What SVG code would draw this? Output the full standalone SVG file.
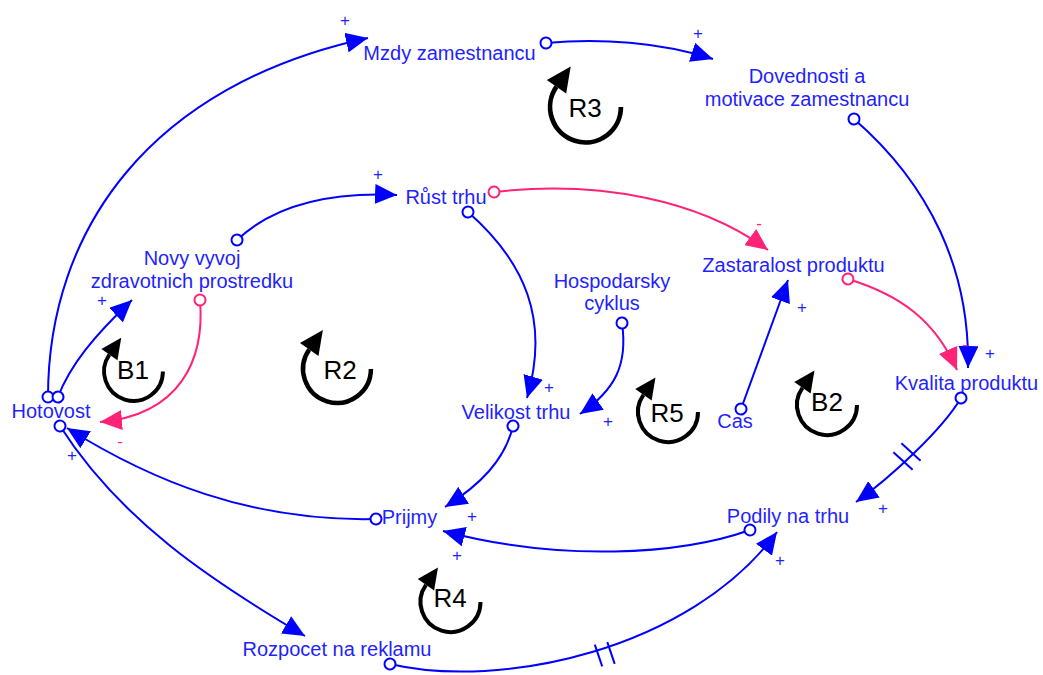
<svg xmlns="http://www.w3.org/2000/svg" xmlns:xlink="http://www.w3.org/1999/xlink" width="1043" height="675" viewBox="0 0 1043 675">
<style>
.n{font-family:"Liberation Sans",Arial,sans-serif;font-size:20px;fill:#1f1fff;text-anchor:middle}
.s{font-family:"Liberation Sans",Arial,sans-serif;font-size:17px;text-anchor:middle}
.sp{fill:#1f1fff}
.sm{fill:#ff2277}
.cb{fill:none;stroke:#0000ff;stroke-width:2;marker-start:url(#cb);marker-end:url(#ab)}
.cp{fill:none;stroke:#ff2277;stroke-width:2;marker-start:url(#cp);marker-end:url(#ap)}
.h{stroke:#0000ff;stroke-width:2}
.ll{font-family:"Liberation Sans",Arial,sans-serif;font-size:26px;fill:#000;text-anchor:middle}
</style>
<defs>
<marker id="ab" viewBox="0 0 22 20" refX="22" refY="10" markerWidth="22" markerHeight="20" markerUnits="userSpaceOnUse" orient="auto"><path d="M0,0 L22,10 L0,20 z" fill="#0000ff"/></marker>
<marker id="ap" viewBox="0 0 22 20" refX="22" refY="10" markerWidth="22" markerHeight="20" markerUnits="userSpaceOnUse" orient="auto"><path d="M0,0 L22,10 L0,20 z" fill="#ff2277"/></marker>
<marker id="cb" viewBox="-7 -7 14 14" refX="0" refY="0" markerWidth="14" markerHeight="14" markerUnits="userSpaceOnUse" orient="auto"><circle r="5.5" fill="#fff" stroke="#0000ff" stroke-width="2"/></marker>
<marker id="cp" viewBox="-7 -7 14 14" refX="0" refY="0" markerWidth="14" markerHeight="14" markerUnits="userSpaceOnUse" orient="auto"><circle r="5.5" fill="#fff" stroke="#ff2277" stroke-width="2"/></marker>
<g id="loop">
<path d="M30,0 A30,30 0 1 1 -24.57,-17.21" fill="none" stroke="#000" stroke-width="4"/>
<path d="M-12.52,-34.41 L-16.38,-11.47 L-32.76,-22.95 z" fill="#000"/>
</g>
</defs>
<rect width="1043" height="675" fill="#fff"/>

<g id="nodes">
<g id="n-mzdy"><text class="n" x="449.5" y="60">Mzdy zamestnancu</text></g>
<g id="n-dovednosti"><text class="n" x="807" y="83">Dovednosti a</text><text class="n" x="807" y="106">motivace zamestnancu</text></g>
<g id="n-rust"><text class="n" x="446" y="204">Růst trhu</text></g>
<g id="n-novy"><text class="n" x="192" y="265">Novy vyvoj</text><text class="n" x="192" y="288">zdravotnich prostredku</text></g>
<g id="n-hospodarsky"><text class="n" x="612" y="288">Hospodarsky</text><text class="n" x="612" y="310">cyklus</text></g>
<g id="n-zastaralost"><text class="n" x="793.5" y="272">Zastaralost produktu</text></g>
<g id="n-kvalita"><text class="n" x="966.5" y="390">Kvalita produktu</text></g>
<g id="n-velikost"><text class="n" x="516" y="419">Velikost trhu</text></g>
<g id="n-cas"><text class="n" x="735" y="428">Cas</text></g>
<g id="n-hotovost"><text class="n" x="51" y="418">Hotovost</text></g>
<g id="n-prijmy"><text class="n" x="409.5" y="524">Prijmy</text></g>
<g id="n-podily"><text class="n" x="788" y="523">Podily na trhu</text></g>
<g id="n-rozpocet"><text class="n" x="337" y="656">Rozpocet na reklamu</text></g>
</g>

<g id="connectors">
<path class="cb" d="M48,397 C48,230 150,85 368,38"/>
<path class="cb" d="M546,43 C600,38 660,42 713,59"/>
<path class="cb" d="M854,119 C930,185 970,270 968,368"/>
<path class="cb" d="M237,240 Q290,190 397,195"/>
<path class="cp" d="M494,192 C600,180 700,200 768,250"/>
<path class="cb" d="M468,212 C525,262 550,320 527,398"/>
<path class="cb" d="M622,323 C628,365 615,390 580,414"/>
<path class="cp" d="M848,279 C900,295 935,320 957,370"/>
<path class="cb" d="M741,409 L788,280"/>
<path class="cb" d="M961,398 C942,430 890,478 856,502"/>
<line class="h" x1="901.4" y1="443.3" x2="920.6" y2="460.7"/>
<line class="h" x1="893.4" y1="452.3" x2="912.6" y2="469.7"/>
<path class="cb" d="M513,426 C505,460 480,485 445,507"/>
<path class="cb" d="M376,519 C250,522 150,480 67,428"/>
<path class="cb" d="M60,426 C120,520 210,580 305,636"/>
<path class="cb" d="M390,664 C500,690 690,650 777,532"/>
<line class="h" x1="594.8" y1="644.6" x2="602.2" y2="666.4"/>
<line class="h" x1="607.3" y1="642.1" x2="614.7" y2="663.9"/>
<path class="cb" d="M750,530 C680,555 560,562 443,531"/>
<path class="cb" d="M58,397 C70,365 95,335 132,300"/>
<path class="cp" d="M200,300 C205,360 180,415 100,422"/>
</g>

<g id="polarity">
<text class="s sp" x="345" y="26">+</text>
<text class="s sp" x="698" y="39">+</text>
<text class="s sp" x="990" y="359">+</text>
<text class="s sm" x="965" y="350">-</text>
<text class="s sp" x="378" y="180">+</text>
<text class="s sm" x="759" y="229">-</text>
<text class="s sp" x="549" y="393">+</text>
<text class="s sp" x="608" y="427">+</text>
<text class="s sp" x="802" y="313">+</text>
<text class="s sp" x="883" y="514">+</text>
<text class="s sp" x="780" y="566">+</text>
<text class="s sp" x="472" y="522">+</text>
<text class="s sp" x="457" y="561">+</text>
<text class="s sp" x="72" y="461">+</text>
<text class="s sm" x="120" y="447">-</text>
<text class="s sp" x="102" y="306">+</text>
</g>

<g id="loops">
<use xlink:href="#loop" transform="translate(585.5,107) scale(1.18)"/>
<text class="ll" x="585" y="117">R3</text>
<use xlink:href="#loop" transform="translate(337,369) scale(1.13)"/>
<text class="ll" x="340" y="379">R2</text>
<use xlink:href="#loop" transform="translate(133.5,371.5) scale(0.98)"/>
<text class="ll" x="133" y="379">B1</text>
<use xlink:href="#loop" transform="translate(668,412)"/>
<text class="ll" x="667" y="422">R5</text>
<use xlink:href="#loop" transform="translate(827,405)"/>
<text class="ll" x="827" y="411">B2</text>
<use xlink:href="#loop" transform="translate(450.5,602)"/>
<text class="ll" x="450" y="607">R4</text>
</g>
</svg>
